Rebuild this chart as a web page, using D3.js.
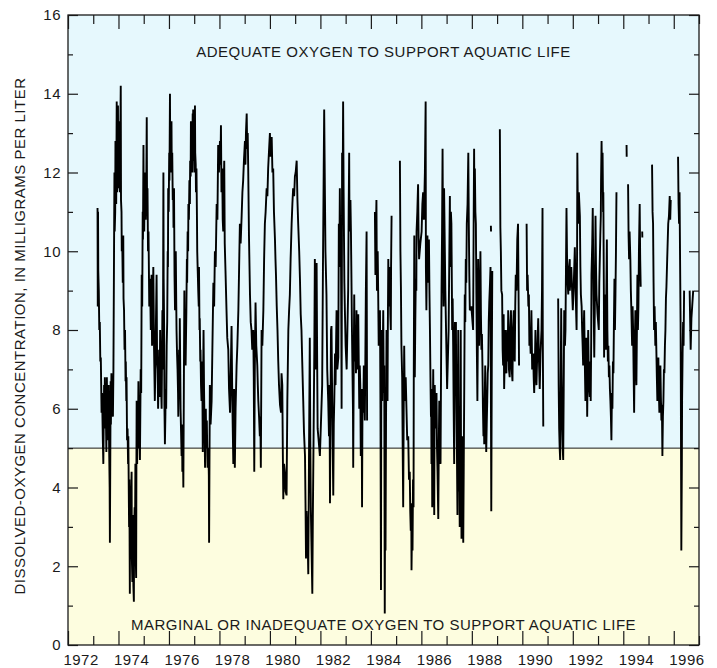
<!DOCTYPE html>
<html><head><meta charset="utf-8">
<script src="https://cdn.jsdelivr.net/npm/d3@7/dist/d3.min.js"></script>
<style>
html,body{margin:0;padding:0;background:#fff;}
svg text{font-family:"Liberation Sans",Arial,Helvetica,sans-serif;fill:#1a1a1a;}
</style></head>
<body>
<svg id="chart" width="717" height="668"></svg>
<script>
// ---- data (decimal year, dissolved oxygen mg/L); null = gap in record ----
const yearLabels = [1972,1974,1976,1978,1980,1982,1984,1986,1988,1990,1992,1994,1996];
const yTickLabels = [0,2,4,6,8,10,12,14,16];
const threshold = 5;
const upperLabel = "ADEQUATE OXYGEN TO SUPPORT AQUATIC LIFE";
const lowerLabel = "MARGINAL OR INADEQUATE OXYGEN TO SUPPORT AQUATIC LIFE";
const yTitle = "DISSOLVED-OXYGEN CONCENTRATION, IN MILLIGRAMS PER LITER";

const do1973to1977 = [[1973.17,11.1],[1973.18,8.6],[1973.19,11.0],[1973.20,9.5],[1973.22,9.0],[1973.24,8.0],[1973.26,8.2],[1973.28,7.2],[1973.30,7.3],[1973.33,5.9],[1973.35,6.4],[1973.38,5.2],[1973.40,4.6],[1973.43,6.6],[1973.44,5.6],[1973.46,6.8],[1973.48,5.5],[1973.50,5.9],[1973.52,4.9],[1973.54,6.8],[1973.56,5.2],[1973.58,5.5],[1973.61,6.6],[1973.63,5.0],[1973.65,4.0],[1973.66,2.6],[1973.69,6.7],[1973.70,5.6],[1973.72,6.9],[1973.74,5.9],[1973.76,6.5],[1973.78,5.8],[1973.80,7.0],[1973.82,9.5],[1973.84,12.0],[1973.85,10.5],[1973.87,11.0],[1973.88,12.8],[1973.89,12.5],[1973.91,11.2],[1973.93,13.8],[1973.94,11.8],[1973.95,11.5],[1973.96,13.5],[1973.98,13.7],[1973.99,11.8],[1974.00,11.6],[1974.01,12.9],[1974.03,13.3],[1974.04,11.7],[1974.06,11.5],[1974.07,12.8],[1974.09,14.2],[1974.10,11.3],[1974.12,11.0],[1974.13,10.0],[1974.15,10.2],[1974.17,9.2],[1974.19,10.4],[1974.20,8.8],[1974.22,8.5],[1974.24,7.5],[1974.26,8.0],[1974.28,6.7],[1974.29,7.2],[1974.31,6.2],[1974.32,6.8],[1974.34,5.2],[1974.36,5.5],[1974.38,4.6],[1974.39,5.3],[1974.42,3.0],[1974.43,4.2],[1974.45,1.3],[1974.46,3.2],[1974.48,2.5],[1974.50,3.8],[1974.52,4.4],[1974.53,2.2],[1974.55,1.6],[1974.56,3.3],[1974.58,2.8],[1974.59,1.5],[1974.61,1.1],[1974.62,2.9],[1974.64,3.5],[1974.65,2.0],[1974.67,4.6],[1974.68,2.4],[1974.70,1.7],[1974.71,4.5],[1974.72,6.2],[1974.74,4.6],[1974.75,5.3],[1974.77,5.0],[1974.79,6.7],[1974.81,5.3],[1974.83,5.5],[1974.85,4.7],[1974.88,7.0],[1974.90,6.4],[1974.92,9.4],[1974.94,8.6],[1974.96,11.0],[1974.97,10.3],[1974.99,12.7],[1975.00,11.0],[1975.02,10.5],[1975.04,11.9],[1975.06,12.0],[1975.08,10.8],[1975.10,11.5],[1975.12,13.4],[1975.13,11.5],[1975.15,11.6],[1975.17,10.0],[1975.19,10.5],[1975.22,8.6],[1975.25,9.3],[1975.28,8.0],[1975.31,9.4],[1975.33,7.6],[1975.35,8.2],[1975.38,9.6],[1975.41,7.5],[1975.44,6.2],[1975.46,7.0],[1975.48,8.0],[1975.51,9.4],[1975.53,7.2],[1975.55,7.0],[1975.57,6.0],[1975.59,6.8],[1975.61,7.5],[1975.63,6.3],[1975.65,8.0],[1975.67,6.8],[1975.69,6.5],[1975.71,6.0],[1975.74,8.5],[1975.76,7.0],[1975.78,12.0],[1975.79,9.3],[1975.81,8.0],[1975.82,6.1],[1975.84,5.1],[1975.86,5.9],[1975.87,6.5],[1975.89,6.0],[1975.91,7.6],[1975.93,8.2],[1975.95,10.0],[1975.96,9.6],[1975.97,11.6],[1975.99,11.0],[1976.01,12.5],[1976.02,11.8],[1976.04,14.0],[1976.05,12.3],[1976.07,12.0],[1976.08,13.0],[1976.10,13.3],[1976.11,12.2],[1976.13,12.5],[1976.15,11.3],[1976.17,11.5],[1976.18,10.6],[1976.20,11.6],[1976.22,9.4],[1976.24,8.5],[1976.25,9.8],[1976.27,10.0],[1976.29,8.6],[1976.30,8.0],[1976.32,7.4],[1976.34,7.0],[1976.36,6.4],[1976.37,5.8],[1976.39,6.6],[1976.40,7.5],[1976.42,7.0],[1976.43,8.3],[1976.45,6.8],[1976.46,6.0],[1976.48,5.4],[1976.50,4.8],[1976.52,5.6],[1976.53,4.4],[1976.55,5.2],[1976.57,4.0],[1976.59,6.5],[1976.61,9.0],[1976.62,7.8],[1976.64,7.5],[1976.66,7.1],[1976.69,8.5],[1976.71,9.8],[1976.72,9.2],[1976.74,10.5],[1976.76,10.0],[1976.77,11.2],[1976.79,10.8],[1976.81,11.8],[1976.83,11.2],[1976.84,12.3],[1976.86,11.9],[1976.87,13.3],[1976.89,12.2],[1976.90,12.6],[1976.92,12.0],[1976.94,13.5],[1976.95,12.4],[1976.96,13.6],[1976.98,12.3],[1976.99,12.8],[1977.01,12.0],[1977.03,13.7],[1977.04,12.5],[1977.06,12.2],[1977.07,11.5],[1977.09,12.1],[1977.11,10.8],[1977.12,10.0],[1977.14,9.5],[1977.16,9.0],[1977.18,8.6],[1977.19,9.6],[1977.21,8.0],[1977.22,8.3],[1977.24,7.2],[1977.25,7.5],[1977.27,6.6],[1977.29,6.2],[1977.30,7.2],[1977.32,7.0],[1977.34,4.9],[1977.35,6.5],[1977.37,8.0],[1977.39,6.5],[1977.41,5.5],[1977.43,4.5],[1977.44,5.8],[1977.46,6.0],[1977.48,5.0],[1977.50,5.7],[1977.52,4.8],[1977.53,4.5],[1977.56,5.0],[1977.58,4.3],[1977.59,2.6]];

const do1977to1982 = [[1977.62,6.6],[1977.65,5.6],[1977.69,6.2],[1977.72,7.5],[1977.76,9.2],[1977.79,8.6],[1977.82,10.0],[1977.85,9.6],[1977.89,11.2],[1977.92,10.8],[1977.95,12.7],[1977.98,12.0],[1978.02,12.8],[1978.04,12.2],[1978.06,13.2],[1978.08,11.5],[1978.11,12.1],[1978.13,10.8],[1978.15,10.5],[1978.17,11.6],[1978.19,12.3],[1978.21,10.2],[1978.24,9.5],[1978.26,9.0],[1978.28,8.5],[1978.31,7.8],[1978.35,7.5],[1978.38,6.5],[1978.42,5.9],[1978.45,7.0],[1978.48,8.1],[1978.51,6.2],[1978.55,4.6],[1978.58,6.5],[1978.61,4.5],[1978.64,6.0],[1978.68,7.1],[1978.71,7.6],[1978.75,8.5],[1978.78,9.6],[1978.81,10.7],[1978.84,10.2],[1978.88,10.9],[1978.91,11.5],[1978.94,11.8],[1978.97,12.3],[1979.01,12.8],[1979.03,12.2],[1979.05,13.0],[1979.08,13.5],[1979.10,12.6],[1979.12,13.0],[1979.14,12.1],[1979.17,10.4],[1979.21,8.9],[1979.24,8.2],[1979.27,8.0],[1979.30,7.5],[1979.34,8.0],[1979.36,6.8],[1979.38,4.4],[1979.40,6.9],[1979.43,8.7],[1979.46,7.6],[1979.50,7.1],[1979.52,6.6],[1979.54,6.2],[1979.57,5.8],[1979.60,5.3],[1979.62,5.8],[1979.64,4.5],[1979.67,8.0],[1979.70,7.6],[1979.74,8.5],[1979.77,9.8],[1979.80,10.7],[1979.83,11.0],[1979.87,11.6],[1979.90,11.4],[1979.93,12.1],[1979.96,12.5],[1980.00,13.0],[1980.02,12.4],[1980.05,12.8],[1980.07,12.9],[1980.10,12.0],[1980.13,12.1],[1980.16,11.0],[1980.20,10.3],[1980.22,9.8],[1980.24,9.4],[1980.27,8.6],[1980.30,8.0],[1980.33,7.2],[1980.36,6.6],[1980.40,6.1],[1980.44,5.9],[1980.46,6.9],[1980.49,6.6],[1980.51,5.0],[1980.53,3.7],[1980.56,4.6],[1980.59,4.4],[1980.62,3.9],[1980.66,3.8],[1980.69,6.2],[1980.73,8.0],[1980.76,8.5],[1980.79,8.9],[1980.82,9.8],[1980.86,10.7],[1980.89,11.2],[1980.92,11.6],[1980.96,11.4],[1980.99,11.9],[1981.02,12.0],[1981.06,12.3],[1981.09,11.3],[1981.12,10.7],[1981.16,10.0],[1981.19,9.3],[1981.22,8.4],[1981.25,8.0],[1981.28,7.2],[1981.32,6.2],[1981.35,5.4],[1981.39,4.8],[1981.41,3.6],[1981.43,2.2],[1981.45,3.4],[1981.47,3.0],[1981.50,2.5],[1981.52,1.8],[1981.55,5.0],[1981.58,7.8],[1981.60,5.2],[1981.62,3.5],[1981.65,2.4],[1981.68,1.3],[1981.70,3.2],[1981.73,5.3],[1981.76,7.6],[1981.78,9.8],[1981.80,7.0],[1981.82,8.5],[1981.85,9.7],[1981.87,7.4],[1981.89,5.5],[1981.93,5.2],[1981.98,4.8],[1982.02,5.6],[1982.07,6.6],[1982.10,9.5],[1982.13,12.0],[1982.15,13.6],[1982.18,11.4]];

const do1982to1987 = [[1982.20,10.0],[1982.24,8.9],[1982.27,7.0],[1982.31,6.2],[1982.34,5.3],[1982.36,6.6],[1982.38,3.6],[1982.40,6.0],[1982.42,8.0],[1982.44,8.1],[1982.47,6.0],[1982.51,3.8],[1982.53,5.6],[1982.55,6.2],[1982.58,7.4],[1982.60,6.6],[1982.62,7.6],[1982.64,8.5],[1982.67,7.0],[1982.71,7.3],[1982.73,10.7],[1982.75,9.6],[1982.77,11.6],[1982.79,9.8],[1982.81,10.7],[1982.83,8.0],[1982.84,6.0],[1982.86,12.5],[1982.88,11.0],[1982.90,13.8],[1982.92,11.5],[1982.93,10.7],[1982.95,9.2],[1982.97,8.5],[1983.00,7.6],[1983.04,7.0],[1983.07,8.0],[1983.10,9.0],[1983.12,11.0],[1983.14,12.5],[1983.15,11.0],[1983.17,10.5],[1983.19,11.3],[1983.21,10.5],[1983.23,9.3],[1983.25,8.0],[1983.27,7.0],[1983.29,6.0],[1983.30,4.5],[1983.32,7.0],[1983.34,8.9],[1983.36,7.2],[1983.39,8.0],[1983.41,6.9],[1983.43,8.5],[1983.46,7.0],[1983.50,8.4],[1983.52,7.2],[1983.54,6.0],[1983.56,7.1],[1983.58,6.6],[1983.60,4.8],[1983.62,6.5],[1983.64,5.2],[1983.65,3.5],[1983.67,6.5],[1983.70,5.9],[1983.72,7.1],[1983.74,6.2],[1983.76,5.7],[1983.78,7.2],[1983.80,8.9],[1983.83,10.5],[1983.85,5.7],null,[1984.16,11.0],[1984.18,9.4],[1984.20,10.5],[1984.22,11.3],[1984.24,9.0],[1984.27,10.0],[1984.29,8.9],[1984.31,7.6],[1984.33,8.3],[1984.36,8.5],[1984.38,6.0],[1984.40,1.4],[1984.41,5.5],[1984.42,8.0],[1984.44,7.0],[1984.45,6.2],[1984.47,7.4],[1984.49,8.5],[1984.51,6.4],[1984.53,7.1],[1984.54,4.0],[1984.55,0.8],[1984.56,3.0],[1984.58,2.4],[1984.60,5.6],[1984.62,8.0],[1984.64,7.0],[1984.66,6.2],[1984.67,7.8],[1984.69,9.8],[1984.71,8.6],[1984.73,9.0],[1984.75,9.6],[1984.77,8.4],[1984.79,8.0],[1984.80,9.6],[1984.82,10.9],null,[1985.15,12.3],[1985.17,10.0],[1985.19,9.1],[1985.21,7.6],[1985.24,6.8],[1985.26,5.0],[1985.28,3.5],[1985.30,5.9],[1985.32,7.6],[1985.34,6.4],[1985.35,6.2],[1985.38,6.8],[1985.41,6.0],[1985.44,5.2],[1985.48,5.3],[1985.51,4.2],[1985.54,4.4],[1985.56,3.4],[1985.58,2.9],[1985.60,3.6],[1985.61,1.9],[1985.63,3.0],[1985.65,2.4],[1985.67,4.2],[1985.69,3.5],[1985.70,7.0],[1985.72,10.4],[1985.73,8.0],[1985.74,6.8],[1985.76,8.2],[1985.78,9.3],[1985.80,9.0],[1985.81,10.5],[1985.84,11.0],[1985.87,11.7],[1985.89,10.4],[1985.91,9.8],[1985.96,10.2],[1986.01,10.5],[1986.04,11.2],[1986.07,11.5],[1986.10,10.8],[1986.14,12.0],[1986.17,13.8],[1986.18,9.6],[1986.20,8.5],[1986.22,9.8],[1986.24,10.4],[1986.27,9.2],[1986.30,10.3],[1986.32,9.0],[1986.34,8.0],[1986.36,6.8],[1986.38,5.8],[1986.39,6.5],[1986.40,4.6],[1986.42,5.8],[1986.43,3.5],[1986.45,5.5],[1986.47,7.0],[1986.49,5.0],[1986.51,3.3],[1986.52,5.2],[1986.53,6.6],[1986.56,5.5],[1986.60,6.4],[1986.62,5.0],[1986.64,4.4],[1986.67,3.2],[1986.69,5.0],[1986.71,6.2],[1986.73,5.2],[1986.76,4.6],[1986.78,7.0],[1986.80,9.1],[1986.82,10.5],[1986.84,12.6],[1986.86,10.0],[1986.88,8.6],[1986.90,11.6],[1986.95,9.0],[1987.02,6.5],[1987.08,8.0]];

const do1987to1991 = [[1987.13,11.4],[1987.14,9.6],[1987.15,10.0],[1987.17,11.0],[1987.19,10.7],[1987.21,9.0],[1987.22,8.0],[1987.24,8.8],[1987.26,7.6],[1987.28,6.0],[1987.30,4.6],[1987.31,6.8],[1987.33,8.2],[1987.35,7.0],[1987.37,8.2],[1987.38,6.6],[1987.39,5.9],[1987.41,4.8],[1987.43,3.3],[1987.44,5.6],[1987.46,8.0],[1987.47,5.8],[1987.49,3.9],[1987.50,5.0],[1987.52,3.0],[1987.54,5.4],[1987.56,8.0],[1987.57,5.0],[1987.59,2.7],[1987.60,4.4],[1987.62,5.3],[1987.64,3.8],[1987.66,2.6],[1987.68,4.6],[1987.70,6.6],[1987.72,8.9],[1987.74,8.2],[1987.76,9.8],[1987.78,9.2],[1987.80,10.7],[1987.83,11.2],[1987.86,12.5],[1987.88,10.7],[1987.90,9.4],[1987.92,8.5],[1987.98,8.6],[1988.05,8.0],[1988.07,10.5],[1988.09,12.6],[1988.10,11.2],[1988.12,12.1],[1988.14,11.0],[1988.16,10.7],[1988.18,8.9],[1988.20,7.4],[1988.22,6.2],[1988.24,8.0],[1988.25,9.8],[1988.27,8.2],[1988.29,7.6],[1988.31,8.6],[1988.34,10.0],[1988.36,8.4],[1988.38,7.5],[1988.40,7.9],[1988.42,7.1],[1988.44,6.0],[1988.46,5.3],[1988.48,5.9],[1988.49,5.1],[1988.51,6.2],[1988.53,7.1],[1988.55,6.0],[1988.57,4.9],[1988.59,5.6],[1988.61,6.2],[1988.63,6.9],[1988.65,7.1],[1988.67,8.2],[1988.69,8.7],[1988.72,9.2],[1988.74,9.6],[1988.77,3.4],[1988.79,7.0],[1988.81,9.5],null,[1988.755,10.65],[1988.76,10.5],null,[1989.11,13.1],[1989.13,10.6],[1989.15,10.0],[1989.17,9.0],[1989.20,8.9],[1989.22,7.5],[1989.24,7.1],[1989.26,8.4],[1989.28,6.5],[1989.30,7.2],[1989.32,8.0],[1989.35,7.0],[1989.37,6.9],[1989.40,8.0],[1989.42,7.2],[1989.44,8.5],[1989.47,7.0],[1989.50,6.8],[1989.52,8.0],[1989.55,8.5],[1989.58,7.0],[1989.61,6.7],[1989.63,8.0],[1989.66,8.5],[1989.68,7.4],[1989.70,7.2],[1989.72,8.6],[1989.74,9.4],[1989.77,9.0],[1989.80,10.3],[1989.83,10.7],[1989.85,9.0],[1989.87,7.1],null,[1990.17,10.7],[1990.19,9.0],[1990.21,9.4],[1990.24,8.6],[1990.26,8.9],[1990.28,7.6],[1990.30,8.0],[1990.33,7.4],[1990.36,8.5],[1990.39,7.0],[1990.43,7.4],[1990.45,6.8],[1990.47,6.4],[1990.50,7.2],[1990.52,8.0],[1990.54,7.0],[1990.56,6.6],[1990.60,7.6],[1990.63,8.3],[1990.66,7.2],[1990.69,6.5],[1990.72,7.4],[1990.76,8.0],[1990.78,9.0],[1990.80,11.1],[1990.81,8.0],[1990.83,5.55],null,[1991.42,8.8],[1991.44,6.6],[1991.46,5.5],[1991.48,5.0],[1991.50,4.7],[1991.52,6.5],[1991.54,8.55],[1991.56,6.8],[1991.58,5.6],[1991.60,5.0],[1991.62,4.7],[1991.64,6.5],[1991.66,8.5],[1991.69,7.6],[1991.71,8.0],[1991.73,9.6],[1991.75,11.1],[1991.78,9.4],[1991.82,8.9],[1991.85,9.6],[1991.88,9.8]];

const do1991to1996 = [[1991.88,9.0],[1991.94,9.6],[1992.00,8.5],[1992.04,9.2],[1992.08,10.1],[1992.11,9.0],[1992.15,8.0],[1992.17,10.0],[1992.18,12.5],[1992.20,11.0],[1992.21,10.7],[1992.24,11.5],[1992.28,10.9],[1992.30,9.6],[1992.32,8.9],[1992.35,8.6],[1992.37,8.0],[1992.39,7.6],[1992.41,7.1],[1992.43,7.9],[1992.45,8.5],[1992.48,7.0],[1992.50,6.2],[1992.52,7.2],[1992.54,7.8],[1992.56,6.6],[1992.57,5.8],[1992.59,7.0],[1992.61,8.0],[1992.63,7.0],[1992.65,6.5],[1992.67,6.3],[1992.69,7.2],[1992.71,6.2],[1992.73,7.8],[1992.74,9.4],[1992.77,10.2],[1992.79,11.1],[1992.82,9.0],[1992.85,7.3],[1992.88,9.0],[1992.90,10.9],[1992.92,9.6],[1992.94,8.9],[1992.98,8.4],[1993.03,8.0],[1993.05,9.2],[1993.07,9.8],[1993.09,10.4],[1993.11,10.9],[1993.12,11.8],[1993.14,12.8],[1993.16,11.6],[1993.18,12.5],[1993.20,11.0],[1993.21,11.5],[1993.23,9.0],[1993.24,7.3],[1993.26,8.6],[1993.27,8.9],[1993.29,7.8],[1993.31,7.5],[1993.33,9.0],[1993.35,10.3],[1993.36,9.0],[1993.37,8.0],[1993.39,7.2],[1993.41,7.6],[1993.43,6.8],[1993.45,7.1],[1993.47,6.5],[1993.49,6.2],[1993.51,5.8],[1993.53,5.2],[1993.55,6.4],[1993.57,6.0],[1993.59,7.2],[1993.61,6.9],[1993.63,8.2],[1993.65,9.3],[1993.67,8.0],[1993.69,8.9],[1993.71,10.0],[1993.73,11.5],null,[1994.13,12.7],[1994.135,12.4],null,[1994.19,11.7],[1994.21,10.4],[1994.23,9.8],[1994.25,10.5],[1994.28,9.8],[1994.30,9.0],[1994.32,8.5],[1994.35,7.6],[1994.37,8.6],[1994.39,8.0],[1994.41,6.9],[1994.43,5.9],[1994.45,7.4],[1994.48,8.5],[1994.50,7.4],[1994.52,6.6],[1994.54,8.0],[1994.56,9.4],[1994.58,8.0],[1994.60,8.6],[1994.62,10.0],[1994.65,11.2],[1994.67,9.8],[1994.69,9.1],null,[1994.75,10.5],[1994.755,10.35],null,[1995.14,12.2],[1995.16,11.0],[1995.18,10.7],[1995.20,9.2],[1995.22,8.0],[1995.24,8.6],[1995.27,7.6],[1995.29,8.2],[1995.31,7.5],[1995.33,6.8],[1995.35,6.2],[1995.37,7.0],[1995.39,7.3],[1995.41,6.4],[1995.43,5.9],[1995.45,6.6],[1995.47,7.1],[1995.49,6.3],[1995.51,5.7],[1995.53,6.1],[1995.55,4.8],[1995.57,5.8],[1995.59,6.2],[1995.61,7.0],[1995.63,6.9],[1995.65,7.6],[1995.67,8.0],[1995.69,8.8],[1995.71,9.1],[1995.74,9.8],[1995.78,10.7],[1995.81,10.9],[1995.84,11.4],[1995.86,10.8],[1995.88,11.3],null,[1996.17,12.4],[1996.19,11.2],[1996.21,10.7],[1996.23,11.5],[1996.25,9.8],[1996.27,8.2],[1996.28,6.6],[1996.30,2.4],[1996.32,4.5],[1996.33,6.2],[1996.35,7.4],[1996.37,8.2],[1996.39,7.6],[1996.41,9.0],null,[1996.63,9.0],[1996.65,8.2],[1996.67,7.5],[1996.70,8.3],[1996.73,8.6],[1996.77,9.0]];

// ---- layout ----
const plot = {left: 68, right: 699, top: 15, bottom: 645};
const svg = d3.select("#chart");

const x = d3.scaleLinear().domain([1972, 1997]).range([plot.left, plot.right]);
const y = d3.scaleLinear().domain([0, 16]).range([plot.bottom, plot.top]);

// background bands
svg.append("rect").attr("x", plot.left).attr("y", y(16))
  .attr("width", plot.right - plot.left).attr("height", y(threshold) - y(16))
  .attr("fill", "#e6f8fd");
svg.append("rect").attr("x", plot.left).attr("y", y(threshold))
  .attr("width", plot.right - plot.left).attr("height", y(0) - y(threshold))
  .attr("fill", "#fdfddf");

// threshold line
svg.append("line").attr("x1", plot.left).attr("x2", plot.right)
  .attr("y1", y(threshold)).attr("y2", y(threshold))
  .attr("stroke", "#1a1a1a").attr("stroke-width", 1);

// data line
const series = [].concat(do1973to1977, do1977to1982, do1982to1987, do1987to1991, do1991to1996);
const line = d3.line().defined(d => d !== null).x(d => x(d[0])).y(d => y(d[1]));
svg.append("path").datum(series).attr("d", line)
  .attr("fill", "none").attr("stroke", "#000").attr("stroke-width", 1.9)
  .attr("stroke-linejoin", "miter").attr("stroke-miterlimit", 2);

// axes
const fontCss = "15px";
const allYears = d3.range(1972, 1998);
const majorYears = allYears.filter(v => v % 2 === 0);
const minorYears = allYears.filter(v => v % 2 === 1);
const majorY = yTickLabels;
const minorY = d3.range(1, 16, 2);

function styleAxis(g) {
  g.select(".domain").remove();
  g.selectAll(".tick line").attr("stroke", "#1a1a1a").attr("stroke-width", 1.2);
  g.selectAll("text").attr("font-size", fontCss).attr("letter-spacing", "0.5px").attr("fill", "#1a1a1a");
}
svg.append("g").attr("transform", `translate(0,${plot.bottom})`)
  .call(d3.axisBottom(x).tickValues(majorYears).tickSize(-14).tickFormat("")).call(styleAxis);
svg.append("g").attr("transform", `translate(0,${plot.bottom})`)
  .call(d3.axisBottom(x).tickValues(minorYears).tickSize(-9).tickFormat("")).call(styleAxis);
svg.append("g").attr("transform", `translate(0,${plot.top})`)
  .call(d3.axisTop(x).tickValues(majorYears).tickSize(-14).tickFormat("")).call(styleAxis);
svg.append("g").attr("transform", `translate(0,${plot.top})`)
  .call(d3.axisTop(x).tickValues(minorYears).tickSize(-9).tickFormat("")).call(styleAxis);
// year labels, centred on each labelled year
svg.append("g").attr("transform", `translate(0,${plot.bottom})`)
  .call(d3.axisBottom(x).tickValues(yearLabels.map(v => v + 0.5)).tickSize(0).tickPadding(9)
    .tickFormat(d => String(Math.floor(d)))).call(styleAxis)
  .selectAll(".tick line").remove();
svg.append("g").attr("transform", `translate(${plot.left},0)`)
  .call(d3.axisLeft(y).tickValues(majorY).tickSize(-10).tickPadding(7)).call(styleAxis);
svg.append("g").attr("transform", `translate(${plot.left},0)`)
  .call(d3.axisLeft(y).tickValues(minorY).tickSize(-5).tickFormat("")).call(styleAxis);
svg.append("g").attr("transform", `translate(${plot.right},0)`)
  .call(d3.axisRight(y).tickValues(majorY).tickSize(-10).tickFormat("")).call(styleAxis);
svg.append("g").attr("transform", `translate(${plot.right},0)`)
  .call(d3.axisRight(y).tickValues(minorY).tickSize(-5).tickFormat("")).call(styleAxis);

// frame
svg.append("rect").attr("x", plot.left).attr("y", plot.top)
  .attr("width", plot.right - plot.left).attr("height", plot.bottom - plot.top)
  .attr("fill", "none").attr("stroke", "#1a1a1a").attr("stroke-width", 1.3);

// annotations
const cx = (plot.left + plot.right) / 2;
svg.append("text").attr("x", cx).attr("y", 57).attr("text-anchor", "middle")
  .attr("font-size", fontCss).attr("letter-spacing", "0.5px").text(upperLabel);
svg.append("text").attr("x", cx).attr("y", 630).attr("text-anchor", "middle")
  .attr("font-size", fontCss).attr("letter-spacing", "0.5px").text(lowerLabel);
svg.append("text").attr("transform", `translate(25,336) rotate(-90)`).attr("text-anchor", "middle")
  .attr("font-size", fontCss).attr("letter-spacing", "0.5px").text(yTitle);
</script>
</body></html>
